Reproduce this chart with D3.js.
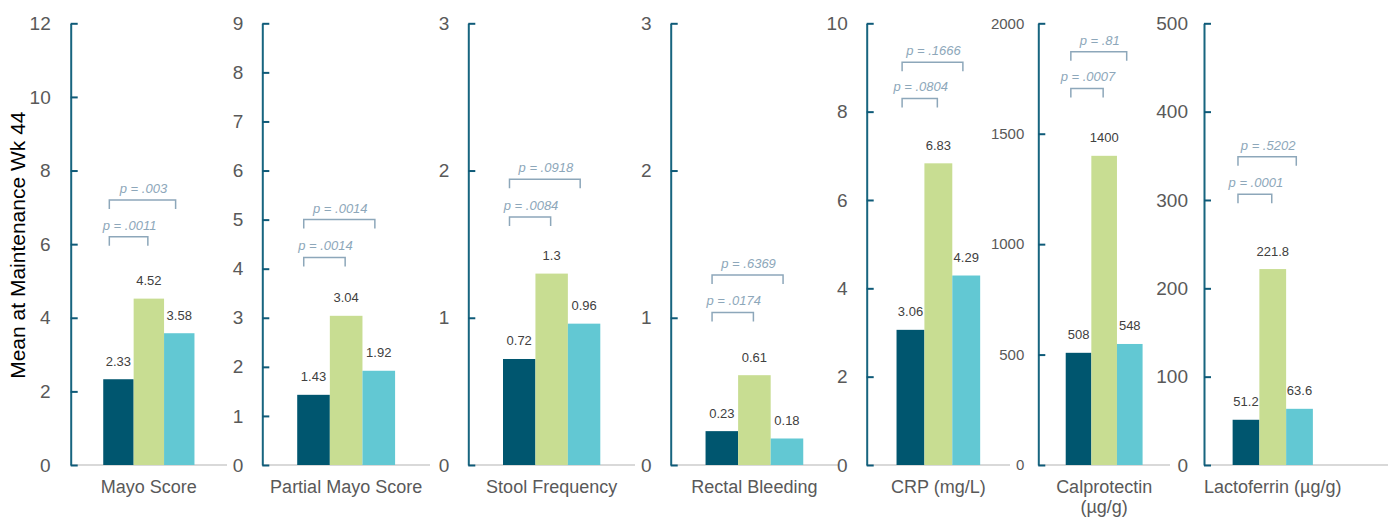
<!DOCTYPE html>
<html>
<head>
<meta charset="utf-8">
<script src="https://cdn.jsdelivr.net/npm/d3@7"></script>
<style>
  html, body { margin: 0; padding: 0; background: #ffffff; }
  svg { display: block; font-family: "Liberation Sans", Arial, sans-serif; }
</style>
</head>
<body>
<svg id="chart" width="1388" height="518"></svg>
<script>
// Outcome measures, one small panel each
const categories = ["Mayo Score", "Partial Mayo Score", "Stool Frequency", "Rectal Bleeding",
                    "CRP (mg/L)", "Calprotectin|(µg/g)", "Lactoferrin (µg/g)"];
const groups = ["g1", "g2", "g3"];

// Means per group
const seriesG1 = [2.33, 1.43, 0.72, 0.23, 3.06, 508, 51.2];
const seriesG2 = [4.52, 3.04, 1.3, 0.61, 6.83, 1400, 221.8];
const seriesG3 = [3.58, 1.92, 0.96, 0.18, 4.29, 548, 63.6];

// Axis extents and tick steps
const axisMax = [12, 9, 3, 3, 10, 2000, 500];
const tickStep = [2, 1, 1, 1, 2, 500, 100];

// Pairwise comparisons: g1 vs g2 (short bracket), g1 vs g3 (long bracket)
const pLabelsG2 = ["p = .0011", "p = .0014", "p = .0084", "p = .0174", "p = .0804", "p = .0007", "p = .0001"];
const pLabelsG3 = ["p = .003", "p = .0014", "p = .0918", "p = .6369", "p = .1666", "p = .81", "p = .5202"];
const bracketLevelG2 = [6.2, 4.23, 1.685, 1.036, 8.3, 1705, 306.6];
const bracketLevelG3 = [7.2, 5.0, 1.94, 1.29, 9.12, 1871, 348.8];

// Panel layout
const panelLeft = [70.7, 262.3, 468.3, 670.7, 866.7, 1038.3, 1204];
const panelWidth = [156.3, 167.7, 166.7, 167.4, 143.3, 131.7, 137.5];
const tickFont = [19, 19, 19, 19, 19, 15, 19];
const tickPad = [20, 19, 19, 19, 19, 14, 16];

const W = 1388, yTop = 23.3, yBottom = 465;
const colors = d3.scaleOrdinal().domain(groups).range(["#00566F", "#C8DD92", "#62C8D3"]);
const pColor = "#8DA7BA";
const svg = d3.select("#chart");

svg.append("text")
  .attr("transform", `translate(25,${(yTop + yBottom) / 2 + 1}) rotate(-90)`)
  .attr("text-anchor", "middle")
  .attr("font-size", 21)
  .attr("fill", "#000")
  .text("Mean at Maintenance Wk 44");

categories.forEach((cat, i) => {
  const values = [seriesG1[i], seriesG2[i], seriesG3[i]];
  const x0 = panelLeft[i];
  const x = d3.scaleBand().domain(groups).range([x0, x0 + panelWidth[i]])
    .paddingInner(0).paddingOuter(1.07);
  const y = d3.scaleLinear().domain([0, axisMax[i]]).range([yBottom, yTop]);
  const g = svg.append("g");

  // gray baseline
  const baseEnd = i === categories.length - 1 ? W : x0 + panelWidth[i];
  g.append("line")
    .attr("x1", x0).attr("x2", baseEnd)
    .attr("y1", y(0)).attr("y2", y(0))
    .attr("stroke", "#D9D9D9").attr("stroke-width", 2);

  // bars
  g.selectAll("rect").data(groups).join("rect")
    .attr("x", d => x(d))
    .attr("width", x.bandwidth())
    .attr("y", (d, j) => y(values[j]))
    .attr("height", (d, j) => y(0) - y(values[j]))
    .attr("fill", d => colors(d));

  // value labels
  g.selectAll("text.val").data(groups).join("text")
    .attr("class", "val")
    .attr("x", d => x(d) + x.bandwidth() / 2)
    .attr("y", (d, j) => y(values[j]) - 13.5)
    .attr("text-anchor", "middle")
    .attr("font-size", 13)
    .attr("fill", "#404040")
    .text((d, j) => String(values[j]));

  // y axis with inward ticks
  const ticks = d3.range(0, axisMax[i] + tickStep[i] / 2, tickStep[i]);
  const axis = d3.axisLeft(y).tickValues(ticks).tickFormat(d3.format("d"))
    .tickSizeInner(-7).tickSizeOuter(0).tickPadding(tickPad[i]);
  const ag = g.append("g").attr("transform", `translate(${x0},0)`).call(axis);
  ag.select(".domain").attr("stroke", "#17657F").attr("stroke-width", 2);
  ag.selectAll(".tick line").attr("stroke", "#0E5A78").attr("stroke-width", 2);
  ag.selectAll(".tick text")
    .attr("fill", "#595959")
    .attr("font-size", tickFont[i])
    .attr("font-family", "'Liberation Sans', Arial, sans-serif");

  // significance brackets
  const bw = x.bandwidth();
  const left = x("g1") + 0.2 * bw;
  const brackets = [
    { right: x("g2") + bw / 2 - 1, level: bracketLevelG2[i], label: pLabelsG2[i] },
    { right: x("g3") + bw / 2 - 0.12 * bw, level: bracketLevelG3[i], label: pLabelsG3[i] }
  ];
  brackets.forEach(b => {
    const top = y(b.level);
    g.append("path")
      .attr("d", `M${left},${top + 9}V${top}H${b.right}V${top + 9}`)
      .attr("fill", "none")
      .attr("stroke", pColor)
      .attr("stroke-width", 1.5);
    g.append("text")
      .attr("x", (left + b.right) / 2 + 1)
      .attr("y", top - 7)
      .attr("text-anchor", "middle")
      .attr("font-size", 13)
      .attr("font-style", "italic")
      .attr("fill", pColor)
      .text(b.label);
  });

  // category label (may wrap onto two lines)
  const lines = cat.split("|");
  const lbl = g.append("text")
    .attr("x", x0 + panelWidth[i] / 2)
    .attr("y", 493)
    .attr("text-anchor", "middle")
    .attr("font-size", 18)
    .attr("fill", "#595959");
  lines.forEach((ln, k) => {
    lbl.append("tspan")
      .attr("x", x0 + panelWidth[i] / 2)
      .attr("dy", k === 0 ? 0 : 20)
      .text(ln);
  });
});
</script>
</body>
</html>
